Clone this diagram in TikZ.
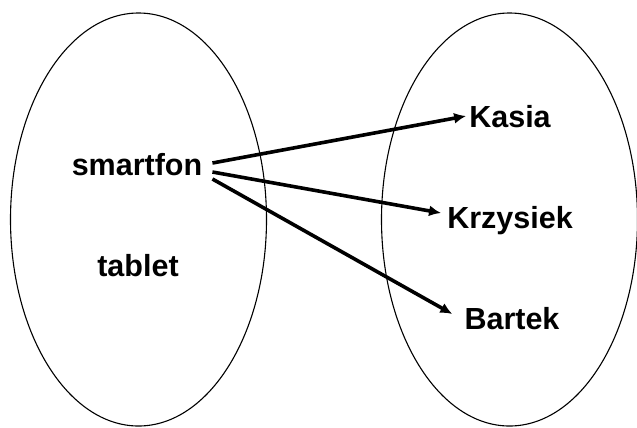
\documentclass[tikz,border=0pt]{standalone}
\usepackage{fontspec}
\setmainfont{Liberation Sans}
\usepackage{tikz}
\tikzset{
    setbox/.style={ellipse,draw=black,line width=1.1bp,minimum width=256bp,minimum height=413bp,inner sep=0},
    elem/.style={font=\fontsize{30.5bp}{34bp}\selectfont\bfseries,inner sep=0,text height=22bp,text depth=0bp,anchor=base},
    maps/.style={line width=3.6bp,-{Latex[length=12bp,width=11bp]}},
}
\usetikzlibrary{shapes.geometric,arrows.meta}
\usetikzlibrary{positioning}

\begin{document}
\begin{tikzpicture}[x=1bp,y=-1bp]
\useasboundingbox (0,0) rectangle (637,427);
\node[setbox](SetA) at (138.5,219.5) {};
\node[setbox](SetB) at (509.5,219.5) {};
\node[elem](Smartfon) at (137,175) {smartfon};
\node[elem](Tablet) at (138,276) {tablet};
\node[elem](Kasia) at (510,127) {Kasia};
\node[elem](Krzysiek) at (510,228) {Krzysiek};
\node[elem](Bartek) at (512,329) {Bartek};
\draw[maps] ([xshift=10bp,yshift=1bp]Smartfon.east) -- ([xshift=-3bp]Kasia.west);
\draw[maps] ([xshift=10bp,yshift=-8bp]Smartfon.east) -- ([xshift=-6bp,yshift=4bp]Krzysiek.west);
\draw[maps] ([xshift=10bp,yshift=-15bp]Smartfon.east) -- ([xshift=-12bp,yshift=4bp]Bartek.west);
\end{tikzpicture}
\end{document}
